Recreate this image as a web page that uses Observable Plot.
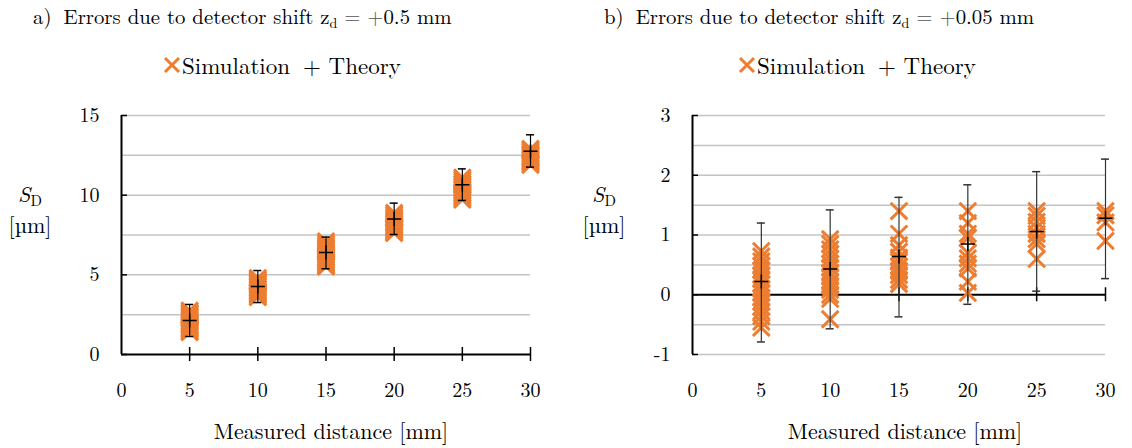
<!DOCTYPE html>
<html>
<head>
<meta charset="utf-8">
<script src="https://cdn.jsdelivr.net/npm/d3@7"></script>
<script src="https://cdn.jsdelivr.net/npm/@observablehq/plot@0.6"></script>
<style>
  html, body { margin: 0; padding: 0; background: #fff; }
  #root { position: relative; width: 1132px; height: 448px; font-family: "Latin Modern Roman", "Liberation Serif", serif; color: #000; overflow: hidden; }
  .abs { position: absolute; white-space: nowrap; }
  .title { font-size: 20.8px; line-height: 1; }
  .title sub { font-size: 14px; vertical-align: -4px; line-height: 0; }
  .title .gap { display: inline-block; width: 12px; }
  .op { color: #555; }
  .legend { font-size: 23px; line-height: 1; display: flex; align-items: center; }
  .ylab { font-size: 22px; line-height: 1.4; text-align: center; }
  .ylab sub { font-size: 15px; vertical-align: -4px; line-height: 0; font-style: normal; }
  .xlab { font-size: 22px; line-height: 1; text-align: center; }
</style>
</head>
<body>
<div id="root">
  <div class="abs title" style="left:33px; top:6px;">a)<span class="gap"></span>Errors due to detector shift z<sub>d</sub> <span class="op">=</span> <span class="op">+</span>0.5 mm</div>
  <div class="abs title" style="left:604px; top:6px;">b)<span class="gap"></span>Errors due to detector shift z<sub>d</sub> <span class="op">=</span> <span class="op">+</span>0.05 mm</div>
  <div class="abs legend" id="legA" style="left:163px; top:53px;"></div>
  <div class="abs legend" id="legB" style="left:738px; top:53px;"></div>
  <div class="abs ylab" style="left:5px; top:178px; width:50px;"><i>S</i><sub>D</sub><br>[µm]</div>
  <div class="abs ylab" style="left:579px; top:178px; width:50px;"><i>S</i><sub>D</sub><br>[µm]</div>
  <div class="abs" id="plotA" style="left:0px; top:100px;"></div>
  <div class="abs" id="plotB" style="left:566px; top:100px;"></div>
  <div class="abs xlab" style="left:206px; top:419px; width:250px;">Measured distance [mm]</div>
  <div class="abs xlab" style="left:780px; top:419px; width:250px;">Measured distance [mm]</div>
</div>
<script>
// ---------- data ----------
const distances = [5, 10, 15, 20, 25, 30];
const xTickLabels = [0, 5, 10, 15, 20, 25, 30];

// Panel a) detector shift +0.5 mm
const theoryA = [2.13, 4.27, 6.40, 8.51, 10.65, 12.76];
const lowA = [1.13, 3.26, 5.38, 7.53, 9.67, 11.76];
const highA = [3.14, 5.27, 7.37, 9.50, 11.65, 13.79];
const simA5 = [1.40, 1.48, 1.57, 1.66, 1.74, 1.83, 1.92, 2.01, 2.10, 2.19, 2.28, 2.37, 2.46, 2.55, 2.64, 2.76];
const simA10 = [3.60, 3.69, 3.78, 3.87, 3.96, 4.05, 4.14, 4.23, 4.33, 4.42, 4.51, 4.60, 4.70, 4.80];
const simA15 = [5.52, 5.62, 5.72, 5.82, 5.92, 6.02, 6.12, 6.22, 6.32, 6.42, 6.52, 6.62, 6.72, 6.82, 6.95, 7.10];
const simA20 = [7.62, 7.71, 7.80, 7.90, 8.00, 8.10, 8.20, 8.30, 8.40, 8.50, 8.62, 8.75, 8.88];
const simA25 = [9.72, 9.82, 9.92, 10.02, 10.12, 10.22, 10.32, 10.42, 10.52, 10.62, 10.72, 10.85, 10.98, 11.10];
const simA30 = [11.90, 11.98, 12.06, 12.14, 12.22, 12.30, 12.38, 12.46, 12.54, 12.62, 12.72, 12.82, 12.90];
const yTicksA = [0, 5, 10, 15];
const gridA = [2.5, 5, 7.5, 10, 12.5, 15];

// Panel b) detector shift +0.05 mm
const theoryB = [0.22, 0.43, 0.64, 0.85, 1.06, 1.28];
const lowB = [-0.79, -0.57, -0.37, -0.16, 0.06, 0.27];
const highB = [1.20, 1.42, 1.63, 1.84, 2.06, 2.27];
const simB5 = [0.73, 0.64, 0.56, 0.48, 0.41, 0.33, 0.26, 0.18, 0.10, 0.03, -0.05, -0.12, -0.20, -0.28, -0.36, -0.45, -0.55];
const simB10 = [0.93, 0.85, 0.76, 0.68, 0.60, 0.52, 0.45, 0.37, 0.30, 0.22, 0.15, 0.08, 0.00, -0.07, -0.41];
const simB15 = [1.40, 1.02, 0.83, 0.72, 0.62, 0.55, 0.47, 0.40, 0.33, 0.25, 0.18];
const simB20 = [1.40, 1.20, 1.02, 0.95, 0.70, 0.61, 0.52, 0.44, 0.22, 0.03];
const simB25 = [1.40, 1.32, 1.22, 1.12, 1.02, 0.93, 0.85, 0.60];
const simB30 = [1.40, 1.33, 1.21, 0.90];
const yTicksB = [-1, 0, 1, 2, 3];
const gridB = [-1, -0.5, 0.5, 1, 1.5, 2, 2.5, 3];

// ---------- build tables ----------
function simTable(groups) {
  const out = [];
  groups.forEach((vals, i) => vals.forEach(v => out.push({x: distances[i], y: v})));
  return out;
}
function theoryTable(t, lo, hi) {
  return distances.map((x, i) => ({x, y: t[i], lo: lo[i], hi: hi[i]}));
}

const ORANGE = "#ED7D31";
const plusSymbol = {
  draw(ctx, size) {
    const r = Math.sqrt(size) / 2;
    ctx.moveTo(-r, 0); ctx.lineTo(r, 0);
    ctx.moveTo(0, -r); ctx.lineTo(0, r);
  }
};
const timesSymbol = {
  draw(ctx, size) {
    const r = Math.sqrt(size) / 2;
    ctx.moveTo(-r, -r); ctx.lineTo(r, r);
    ctx.moveTo(-r, r); ctx.lineTo(r, -r);
  }
};

function panel({sims, theory, yDomain, yTicks, grid, marginLeft, marginRight, barColor}) {
  return Plot.plot({
    width: 566,
    height: 330,
    marginLeft, marginRight,
    marginTop: 15,
    marginBottom: 76,
    style: {fontFamily: "'Latin Modern Roman', 'Liberation Serif', serif", fontSize: "20px", color: "#000", background: "transparent", overflow: "visible"},
    x: {domain: [0, 30]},
    y: {domain: yDomain},
    marks: [
      Plot.gridY(grid, {stroke: "#c4c4c4", strokeOpacity: 1, strokeWidth: 1.5}),
      Plot.ruleY([0], {stroke: "#000", strokeWidth: 2}),
      Plot.ruleX([0], {stroke: "#000", strokeWidth: 2}),
      Plot.ruleX(distances, {x: d => d, y1: 0, y2: 0, insetTop: 7, insetBottom: 7, stroke: "#000", strokeWidth: 1.5}),
      Plot.ruleY(yTicks, {y: d => d, x1: 0, x2: 0, insetLeft: 0, insetRight: -6, stroke: "#000", strokeWidth: 1.5}),
      Plot.dot(sims, {x: "x", y: "y", symbol: timesSymbol, r: 9.4, stroke: ORANGE, strokeWidth: 3, fill: "none"}),
      Plot.ruleX(theory, {x: "x", y1: "lo", y2: "hi", stroke: barColor, strokeWidth: 1.2}),
      Plot.ruleY(theory, {y: "hi", x1: "x", x2: "x", insetLeft: -4, insetRight: -4, stroke: barColor, strokeWidth: 1.5}),
      Plot.ruleY(theory, {y: "lo", x1: "x", x2: "x", insetLeft: -4, insetRight: -4, stroke: barColor, strokeWidth: 1.5}),
      Plot.dot(theory, {x: "x", y: "y", symbol: plusSymbol, r: 7.9, stroke: "#000", strokeWidth: 1.5, fill: "none"}),
      Plot.axisY(yTicks, {tickSize: 0, tickPadding: 22, label: null, tickFormat: d => String(d)}),
      Plot.axisX(xTickLabels, {tickSize: 0, tickPadding: 28, label: null, tickFormat: d => String(d)})
    ]
  });
}

document.getElementById("plotA").appendChild(panel({
  sims: simTable([simA5, simA10, simA15, simA20, simA25, simA30]),
  theory: theoryTable(theoryA, lowA, highA),
  yDomain: [0, 15], yTicks: yTicksA, grid: gridA,
  marginLeft: 121, marginRight: 36, barColor: "#000"
}));
document.getElementById("plotB").appendChild(panel({
  sims: simTable([simB5, simB10, simB15, simB20, simB25, simB30]),
  theory: theoryTable(theoryB, lowB, highB),
  yDomain: [-1, 3], yTicks: yTicksB, grid: gridB,
  marginLeft: 126, marginRight: 27, barColor: "#333"
}));

function legend(el) {
  const ns = "http://www.w3.org/2000/svg";
  const svg = document.createElementNS(ns, "svg");
  svg.setAttribute("width", 18); svg.setAttribute("height", 18);
  svg.style.marginRight = "1px";
  svg.innerHTML = `<path d="M2,2L16,16M16,2L2,16" stroke="${ORANGE}" stroke-width="3" fill="none"/>`;
  el.appendChild(svg);
  const s = document.createElement("span"); s.textContent = "Simulation"; el.appendChild(s);
  const p = document.createElement("span"); p.textContent = "+ Theory"; p.style.marginLeft = "13px"; el.appendChild(p);
}
legend(document.getElementById("legA"));
legend(document.getElementById("legB"));
</script>
</body>
</html>
